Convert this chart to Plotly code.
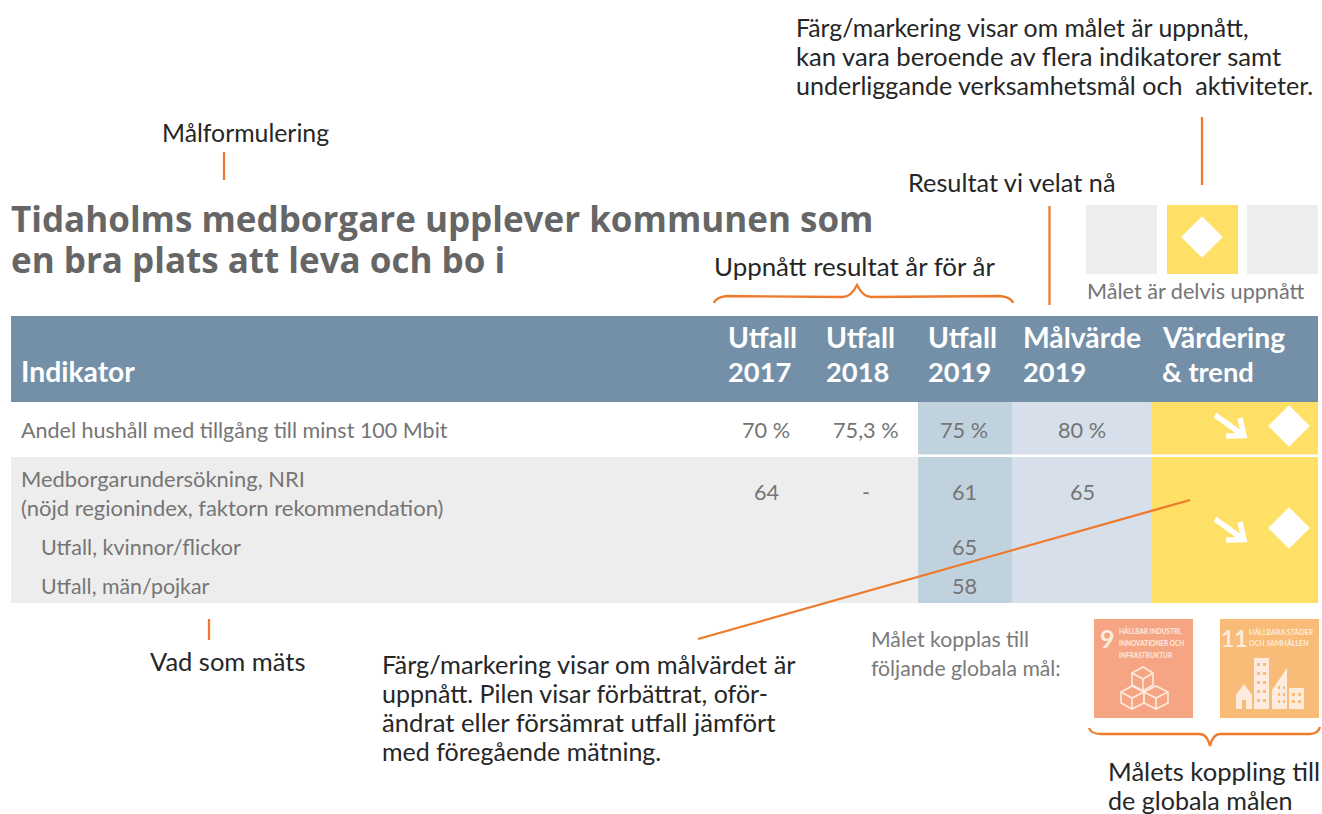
import plotly.graph_objects as go

# ---- data ----
title_lines = ["Tidaholms medborgare upplever kommunen som", "en bra plats att leva och bo i"]
header_first = "Indikator"
header_top = ["Utfall", "Utfall", "Utfall", "Målvärde", "Värdering"]
header_bottom = ["2017", "2018", "2019", "2019", "& trend"]
row_labels = ["Andel hushåll med tillgång till minst 100 Mbit",
              "Medborgarundersökning, NRI",
              "(nöjd regionindex, faktorn rekommendation)",
              "Utfall, kvinnor/flickor",
              "Utfall, män/pojkar"]
values_2017 = ["70 %", "64"]
values_2018 = ["75,3 %", "-"]
values_2019 = ["75 %", "61", "65", "58"]
target_2019 = ["80 %", "65"]

C_HEAD = "#7490A8"; C_GRAY = "#EDEDED"; C_2019 = "#C1D2DF"; C_TARGET = "#D7E0EA"
C_YEL = "#FFE066"; C_OR = "#EE7A2D"; C_TXT = "#757575"; C_NOTE = "#262626"
FONT = "Lato"
NOTE = 24.8
BODY = 21.7
HEAD = 28.3

fig = go.Figure()
shapes = []
ann = []


def rect(x0, y0, x1, y1, c, layer="below"):
    shapes.append(dict(type="rect", x0=x0, x1=x1, y0=y0, y1=y1, fillcolor=c,
                       line=dict(width=0), layer=layer))


def seg(x0, y0, x1, y1, c=C_OR, w=2.3):
    shapes.append(dict(type="line", x0=x0, x1=x1, y0=y0, y1=y1, line=dict(color=c, width=w), layer="above"))


def path(d, c=C_OR, w=2.3, fill=None):
    s = dict(type="path", path=d, line=dict(color=c, width=w), layer="above")
    if fill:
        s["fillcolor"] = fill
    shapes.append(s)


def txt(x, y, t, size=BODY, color=C_TXT, anchor="left", bold=False, family=FONT):
    dx = -2 if anchor == "left" else 0
    ann.append(dict(x=x + dx, y=y - 1, text=f"<b>{t}</b>" if bold else t, showarrow=False, xanchor=anchor,
                    yanchor="middle", font=dict(size=size, color=color, family=family), xref="x", yref="y"))


# table backgrounds
rect(11, 316, 1318, 402, C_HEAD)
rect(11, 457, 918, 603, C_GRAY)
rect(918, 402, 1012, 454.5, C_2019)
rect(918, 457, 1012, 603, C_2019)
rect(1012, 402, 1151, 454.5, C_TARGET)
rect(1012, 457, 1151, 603, C_TARGET)
rect(1151, 402, 1318, 454.5, C_YEL)
rect(1151, 457, 1318, 603, C_YEL)

# status swatches
rect(1086, 205, 1157, 274, C_GRAY)
rect(1167, 205, 1238, 274, C_YEL)
rect(1247, 205, 1318, 274, C_GRAY)

# diamonds
fig.add_trace(go.Scatter(x=[1202, 1289, 1289], y=[237, 426, 528], mode="markers", hoverinfo="skip",
                         marker=dict(symbol="diamond", size=32, color="white", opacity=1, line=dict(width=0))))

# arrows (trend)
for dy in (0, 104):
    path(f"M1215,{415+dy} L1243,{435+dy}", c="white", w=5.5)
    path(f"M1240,{418+dy} L1244,{435.5+dy} L1226,{436+dy}", c="white", w=5.5)

# orange leader lines
seg(224, 152, 224, 180)
seg(209, 619, 209, 640)
seg(1049.5, 206, 1049.5, 305)
seg(1202, 117, 1202, 185)
seg(698, 639, 1190, 500)

# braces
path("M714,303 Q716,297 727,296 L843,297 Q851,297 857,285 Q863,297 871,297 L1000,296 Q1011,297 1013,303")
path("M1089,728 Q1091,734 1101,734 L1200,734 Q1207,734 1210,746 Q1213,734 1220,734 L1310,734 Q1318,734 1320,727")

# title
txt(11, 219, title_lines[0], size=35, color="#666666", bold=True, family="Open Sans")
txt(11, 260, title_lines[1], size=35, color="#666666", bold=True, family="Open Sans")

# headers
txt(21, 372, header_first, size=HEAD, color="white", bold=True)
for x, a, b in zip([728, 826, 928, 1023, 1162], header_top, header_bottom):
    txt(x, 338, a, size=HEAD, color="white", bold=True)
    txt(x, 372, b, size=HEAD - 1, color="white", bold=True)

# rows
txt(21, 431, row_labels[0], size=21.5)
txt(21, 479, row_labels[1], size=21.9)
txt(21, 508, row_labels[2], size=22)
txt(41, 548, row_labels[3], size=21.5)
txt(41, 587, row_labels[4], size=21.3)

for y, v in zip([431, 493], values_2017):
    txt(766, y, v, anchor="center")
for y, v in zip([431, 493], values_2018):
    txt(866, y, v, anchor="center")
for y, v in zip([431, 493, 548, 587], values_2019):
    txt(964, y, v, anchor="center")
for y, v in zip([431, 493], target_2019):
    txt(1082, y, v, anchor="center")

# notes
for y, t, s in zip([28, 57, 86], ["Färg/markering visar om målet är uppnått,", "kan vara beroende av flera indikatorer samt",
                                  "underliggande verksamhetsmål och  aktiviteter."], [NOTE, 25.7, 25.1]):
    txt(796, y, t, size=s, color=C_NOTE)
txt(162, 133, "Målformulering", size=NOTE, color=C_NOTE)
txt(908, 183, "Resultat vi velat nå", size=25.3, color=C_NOTE)
txt(714, 267, "Uppnått resultat år för år", size=25.9, color=C_NOTE)
txt(1087, 292, "Målet är delvis uppnått", size=21.6, color=C_TXT)
txt(150, 662, "Vad som mäts", size=25.5, color=C_NOTE)
for y, t, s in zip([665, 694, 723, 752], ["Färg/markering visar om målvärdet är", "uppnått. Pilen visar förbättrat, oför-",
                                          "ändrat eller försämrat utfall jämfört", "med föregående mätning."],
                   [25.4, 25, 25.7, 25]):
    txt(382, y, t, size=s, color=C_NOTE)
txt(871, 640, "Målet kopplas till", size=21.2, color="#7A7A7A")
txt(871, 669, "följande globala mål:", size=21.2, color="#7A7A7A")
txt(1108, 772, "Målets koppling till", size=25.6, color=C_NOTE)
txt(1108, 801, "de globala målen", size=25.1, color=C_NOTE)

# SDG icons
C9 = "#F6A584"
C11 = "#F8BC78"
rect(1094, 619, 1193, 718, C9)
rect(1220, 619, 1319, 718, C11)
W = "#FDEBDD"
txt(1107.5, 639, "9", size=25, color=W, anchor="center", bold=True)
for y, t in zip([632, 644, 656], ["HÅLLBAR INDUSTRI,", "INNOVATIONER OCH", "INFRASTRUKTUR"]):
    txt(1119, y, t, size=6.5, color=W, bold=True)
txt(1234.5, 639, "11", size=23, color=W, anchor="center", bold=True)
for y, t in zip([632, 644], ["HÅLLBARA STÄDER", "OCH SAMHÄLLEN"]):
    txt(1249, y, t, size=7, color=W, bold=True)
# cubes
path("M1143,667 L1153,673 L1153,685 L1143,691 L1132,685 L1132,673 Z M1132,673 L1143,679 L1153,673 M1143,679 L1143,691", c=W, w=1.6)
path("M1132,686 L1144,692 L1144,703 L1132,709 L1121,703 L1121,692 Z M1121,692 L1132,698 L1144,692 M1132,698 L1132,709", c=W, w=1.6)
path("M1156,686 L1168,692 L1168,703 L1156,709 L1144,703 L1144,692 Z M1144,692 L1156,698 L1168,692 M1156,698 L1156,709", c=W, w=1.6)
# city
path("M1236,695 L1244,684 L1252,695 L1252,709 L1236,709 Z", c=W, w=0, fill=W)
path("M1254,658 L1269,658 L1269,709 L1254,709 Z", c=W, w=0, fill=W)
path("M1272,709 L1272,690 L1287,668 L1287,709 Z", c=W, w=0, fill=W)
path("M1289,688 L1304,688 L1304,709 L1289,709 Z", c=W, w=0, fill=W)
# windows
for wy in (663, 672, 681, 690, 699):
    for wx in (1257, 1263):
        rect(wx, wy, wx + 3, wy + 3, C11, layer="above")
for wy in (693, 700):
    for wx in (1292, 1298):
        rect(wx, wy, wx + 3, wy + 3, C11, layer="above")
for wy in (686, 693, 700):
    for wx in (1278, 1283):
        rect(wx, wy, wx + 2, wy + 3, C11, layer="above")
rect(1242, 700, 1246, 709, C11, layer="above")

fig.update_layout(
    width=1322, height=814, margin=dict(l=0, r=0, t=0, b=0), showlegend=False,
    paper_bgcolor="white", plot_bgcolor="white", shapes=shapes, annotations=ann,
    xaxis=dict(range=[0, 1322], visible=False, fixedrange=True),
    yaxis=dict(range=[814, 0], visible=False, fixedrange=True),
)
fig.write_html("out.html", config=dict(displayModeBar=False), post_script="document.body.style.margin='0';")
